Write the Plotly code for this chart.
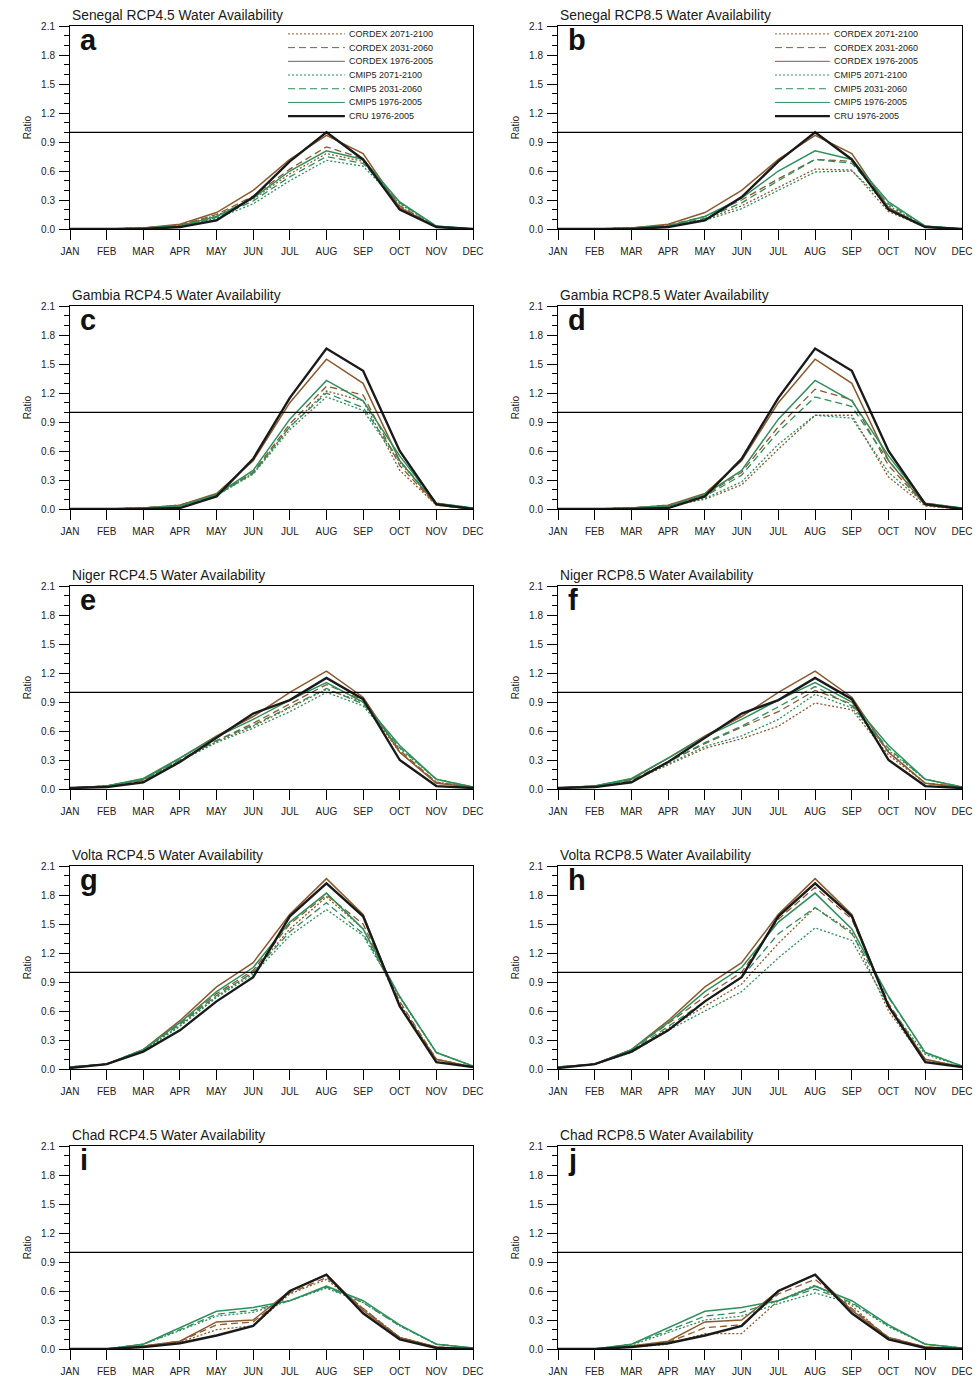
import plotly.graph_objects as go
from plotly.subplots import make_subplots

MONTHS = ["JAN", "FEB", "MAR", "APR", "MAY", "JUN", "JUL", "AUG", "SEP", "OCT", "NOV", "DEC"]
SERIES = ["CORDEX 2071-2100", "CORDEX 2031-2060", "CORDEX 1976-2005",
          "CMIP5 2071-2100", "CMIP5 2031-2060", "CMIP5 1976-2005", "CRU 1976-2005"]
REF_LINE = 1.0

# ---------------- Senegal ----------------
SEN_CRU        = [0, 0, 0.00, 0.02, 0.09, 0.33, 0.70, 1.00, 0.72, 0.20, 0.02, 0]
SEN_CORDEX_HIS = [0, 0, 0.01, 0.05, 0.17, 0.40, 0.72, 0.97, 0.78, 0.22, 0.02, 0]
SEN_CMIP_HIS   = [0, 0, 0.01, 0.03, 0.13, 0.32, 0.60, 0.81, 0.72, 0.28, 0.03, 0]
SEN45_CORDEX_MID = [0, 0, 0.01, 0.04, 0.15, 0.34, 0.62, 0.85, 0.73, 0.24, 0.02, 0]
SEN45_CORDEX_END = [0, 0, 0.01, 0.04, 0.14, 0.31, 0.57, 0.78, 0.70, 0.23, 0.02, 0]
SEN45_CMIP_MID   = [0, 0, 0.01, 0.03, 0.12, 0.29, 0.54, 0.75, 0.68, 0.27, 0.03, 0]
SEN45_CMIP_END   = [0, 0, 0.01, 0.03, 0.11, 0.26, 0.50, 0.71, 0.65, 0.26, 0.03, 0]
SEN85_CORDEX_MID = [0, 0, 0.01, 0.04, 0.13, 0.30, 0.52, 0.72, 0.70, 0.22, 0.02, 0]
SEN85_CORDEX_END = [0, 0, 0.01, 0.03, 0.10, 0.24, 0.43, 0.62, 0.61, 0.18, 0.02, 0]
SEN85_CMIP_MID   = [0, 0, 0.01, 0.03, 0.11, 0.27, 0.50, 0.72, 0.68, 0.26, 0.03, 0]
SEN85_CMIP_END   = [0, 0, 0.01, 0.03, 0.09, 0.21, 0.40, 0.59, 0.60, 0.24, 0.03, 0]

# ---------------- Gambia ----------------
GAM_CRU        = [0, 0, 0.00, 0.01, 0.13, 0.52, 1.15, 1.66, 1.43, 0.60, 0.05, 0]
GAM_CORDEX_HIS = [0, 0, 0.01, 0.04, 0.16, 0.50, 1.10, 1.55, 1.30, 0.50, 0.04, 0]
GAM_CMIP_HIS   = [0, 0, 0.01, 0.03, 0.15, 0.40, 0.93, 1.33, 1.12, 0.55, 0.06, 0.01]
GAM45_CORDEX_MID = [0, 0, 0.01, 0.04, 0.15, 0.38, 0.88, 1.27, 1.18, 0.45, 0.04, 0]
GAM45_CORDEX_END = [0, 0, 0.01, 0.04, 0.15, 0.37, 0.85, 1.22, 1.12, 0.40, 0.04, 0]
GAM45_CMIP_MID   = [0, 0, 0.01, 0.03, 0.14, 0.37, 0.85, 1.20, 1.05, 0.50, 0.06, 0.01]
GAM45_CMIP_END   = [0, 0, 0.01, 0.03, 0.14, 0.36, 0.82, 1.16, 1.02, 0.48, 0.06, 0.01]
GAM85_CORDEX_MID = [0, 0, 0.01, 0.04, 0.14, 0.38, 0.85, 1.24, 1.13, 0.45, 0.04, 0]
GAM85_CORDEX_END = [0, 0, 0.01, 0.03, 0.10, 0.25, 0.62, 0.97, 0.97, 0.33, 0.03, 0]
GAM85_CMIP_MID   = [0, 0, 0.01, 0.03, 0.13, 0.35, 0.80, 1.16, 1.06, 0.50, 0.06, 0.01]
GAM85_CMIP_END   = [0, 0, 0.01, 0.03, 0.11, 0.28, 0.67, 0.97, 0.94, 0.38, 0.05, 0.01]

# ---------------- Niger ----------------
NIG_CRU        = [0.01, 0.02, 0.07, 0.28, 0.53, 0.78, 0.92, 1.15, 0.93, 0.30, 0.03, 0.01]
NIG_CORDEX_HIS = [0.01, 0.03, 0.10, 0.32, 0.55, 0.75, 1.00, 1.22, 0.95, 0.38, 0.06, 0.02]
NIG_CMIP_HIS   = [0.01, 0.03, 0.11, 0.32, 0.54, 0.72, 0.92, 1.10, 0.90, 0.45, 0.10, 0.02]
NIG45_CORDEX_MID = [0.01, 0.03, 0.09, 0.30, 0.50, 0.68, 0.88, 1.08, 0.92, 0.40, 0.07, 0.02]
NIG45_CORDEX_END = [0.01, 0.03, 0.09, 0.29, 0.49, 0.65, 0.84, 1.03, 0.90, 0.38, 0.07, 0.02]
NIG45_CMIP_MID   = [0.01, 0.03, 0.10, 0.30, 0.50, 0.66, 0.85, 1.04, 0.88, 0.43, 0.10, 0.02]
NIG45_CMIP_END   = [0.01, 0.03, 0.10, 0.29, 0.48, 0.63, 0.80, 1.00, 0.86, 0.42, 0.10, 0.02]
NIG85_CORDEX_MID = [0.01, 0.03, 0.09, 0.28, 0.47, 0.64, 0.80, 1.02, 0.88, 0.38, 0.06, 0.02]
NIG85_CORDEX_END = [0.01, 0.02, 0.08, 0.25, 0.42, 0.52, 0.65, 0.89, 0.82, 0.35, 0.06, 0.02]
NIG85_CMIP_MID   = [0.01, 0.03, 0.09, 0.28, 0.48, 0.65, 0.85, 1.06, 0.86, 0.42, 0.10, 0.02]
NIG85_CMIP_END   = [0.01, 0.02, 0.08, 0.26, 0.44, 0.55, 0.72, 0.98, 0.84, 0.40, 0.10, 0.02]

# ---------------- Volta ----------------
VOL_CRU        = [0.01, 0.05, 0.18, 0.40, 0.70, 0.95, 1.58, 1.92, 1.58, 0.65, 0.07, 0.02]
VOL_CORDEX_HIS = [0.02, 0.05, 0.20, 0.50, 0.85, 1.10, 1.60, 1.97, 1.60, 0.65, 0.10, 0.02]
VOL_CMIP_HIS   = [0.02, 0.05, 0.20, 0.48, 0.80, 1.05, 1.52, 1.82, 1.45, 0.75, 0.17, 0.03]
VOL45_CORDEX_MID = [0.02, 0.05, 0.20, 0.47, 0.78, 1.02, 1.50, 1.80, 1.50, 0.70, 0.10, 0.02]
VOL45_CORDEX_END = [0.02, 0.05, 0.19, 0.45, 0.75, 1.00, 1.45, 1.78, 1.45, 0.68, 0.10, 0.02]
VOL45_CMIP_MID   = [0.02, 0.05, 0.20, 0.46, 0.76, 1.00, 1.42, 1.72, 1.40, 0.75, 0.17, 0.03]
VOL45_CMIP_END   = [0.02, 0.05, 0.19, 0.44, 0.74, 0.98, 1.38, 1.65, 1.38, 0.74, 0.17, 0.03]
VOL85_CORDEX_MID = [0.02, 0.05, 0.20, 0.47, 0.75, 1.00, 1.55, 1.88, 1.55, 0.68, 0.10, 0.02]
VOL85_CORDEX_END = [0.02, 0.05, 0.18, 0.42, 0.65, 0.88, 1.30, 1.67, 1.42, 0.60, 0.08, 0.02]
VOL85_CMIP_MID   = [0.02, 0.05, 0.19, 0.44, 0.70, 0.95, 1.40, 1.67, 1.40, 0.74, 0.17, 0.03]
VOL85_CMIP_END   = [0.02, 0.05, 0.17, 0.40, 0.60, 0.80, 1.15, 1.46, 1.33, 0.65, 0.15, 0.03]

# ---------------- Chad ----------------
CHA_CRU        = [0, 0, 0.02, 0.06, 0.14, 0.24, 0.60, 0.77, 0.37, 0.10, 0.01, 0]
CHA_CORDEX_HIS = [0, 0, 0.03, 0.08, 0.28, 0.30, 0.60, 0.77, 0.40, 0.12, 0.02, 0]
CHA_CMIP_HIS   = [0, 0, 0.05, 0.22, 0.39, 0.43, 0.50, 0.65, 0.50, 0.25, 0.05, 0.01]
CHA45_CORDEX_MID = [0, 0, 0.03, 0.08, 0.25, 0.28, 0.58, 0.74, 0.42, 0.12, 0.02, 0]
CHA45_CORDEX_END = [0, 0, 0.03, 0.07, 0.20, 0.24, 0.57, 0.72, 0.42, 0.12, 0.02, 0]
CHA45_CMIP_MID   = [0, 0, 0.05, 0.20, 0.36, 0.40, 0.50, 0.64, 0.48, 0.24, 0.05, 0.01]
CHA45_CMIP_END   = [0, 0, 0.05, 0.19, 0.34, 0.38, 0.50, 0.63, 0.48, 0.24, 0.05, 0.01]
CHA85_CORDEX_MID = [0, 0, 0.03, 0.07, 0.22, 0.25, 0.57, 0.72, 0.42, 0.12, 0.02, 0]
CHA85_CORDEX_END = [0, 0, 0.02, 0.05, 0.16, 0.16, 0.50, 0.66, 0.45, 0.10, 0.02, 0]
CHA85_CMIP_MID   = [0, 0, 0.05, 0.19, 0.34, 0.38, 0.50, 0.62, 0.48, 0.24, 0.05, 0.01]
CHA85_CMIP_END   = [0, 0, 0.04, 0.17, 0.30, 0.34, 0.47, 0.58, 0.47, 0.23, 0.05, 0.01]

PANEL_TITLES = [
    "Senegal RCP4.5 Water Availability", "Senegal RCP8.5 Water Availability",
    "Gambia RCP4.5 Water Availability", "Gambia RCP8.5 Water Availability",
    "Niger RCP4.5 Water Availability", "Niger RCP8.5 Water Availability",
    "Volta RCP4.5 Water Availability", "Volta RCP8.5 Water Availability",
    "Chad RCP4.5 Water Availability", "Chad RCP8.5 Water Availability",
]
PANEL_LETTERS = ["a", "b", "c", "d", "e", "f", "g", "h", "i", "j"]

PANEL_DATA = [
    [SEN45_CORDEX_END, SEN45_CORDEX_MID, SEN_CORDEX_HIS, SEN45_CMIP_END, SEN45_CMIP_MID, SEN_CMIP_HIS, SEN_CRU],
    [SEN85_CORDEX_END, SEN85_CORDEX_MID, SEN_CORDEX_HIS, SEN85_CMIP_END, SEN85_CMIP_MID, SEN_CMIP_HIS, SEN_CRU],
    [GAM45_CORDEX_END, GAM45_CORDEX_MID, GAM_CORDEX_HIS, GAM45_CMIP_END, GAM45_CMIP_MID, GAM_CMIP_HIS, GAM_CRU],
    [GAM85_CORDEX_END, GAM85_CORDEX_MID, GAM_CORDEX_HIS, GAM85_CMIP_END, GAM85_CMIP_MID, GAM_CMIP_HIS, GAM_CRU],
    [NIG45_CORDEX_END, NIG45_CORDEX_MID, NIG_CORDEX_HIS, NIG45_CMIP_END, NIG45_CMIP_MID, NIG_CMIP_HIS, NIG_CRU],
    [NIG85_CORDEX_END, NIG85_CORDEX_MID, NIG_CORDEX_HIS, NIG85_CMIP_END, NIG85_CMIP_MID, NIG_CMIP_HIS, NIG_CRU],
    [VOL45_CORDEX_END, VOL45_CORDEX_MID, VOL_CORDEX_HIS, VOL45_CMIP_END, VOL45_CMIP_MID, VOL_CMIP_HIS, VOL_CRU],
    [VOL85_CORDEX_END, VOL85_CORDEX_MID, VOL_CORDEX_HIS, VOL85_CMIP_END, VOL85_CMIP_MID, VOL_CMIP_HIS, VOL_CRU],
    [CHA45_CORDEX_END, CHA45_CORDEX_MID, CHA_CORDEX_HIS, CHA45_CMIP_END, CHA45_CMIP_MID, CHA_CMIP_HIS, CHA_CRU],
    [CHA85_CORDEX_END, CHA85_CORDEX_MID, CHA_CORDEX_HIS, CHA85_CMIP_END, CHA85_CMIP_MID, CHA_CMIP_HIS, CHA_CRU],
]

# ---------------- styles ----------------
BROWN = "#8c5a2e"
GREEN = "#2f8f5c"
DOT = "2px,2px"
DASH = "7px,4px"
STYLES = [
    dict(color=BROWN, dash=DOT, width=1.3),
    dict(color=BROWN, dash=DASH, width=1.3),
    dict(color=BROWN, dash="solid", width=1.5),
    dict(color=GREEN, dash=DOT, width=1.3),
    dict(color=GREEN, dash=DASH, width=1.3),
    dict(color=GREEN, dash="solid", width=1.5),
    dict(color="#1a1a1a", dash="solid", width=2.4),
]

FONT = "Liberation Sans, Arial, Helvetica, sans-serif"
W, H = 979, 1376
COL_X = [(70, 473), (558, 962)]
ROW_TOP, ROW_H, ROW_STEP = 26, 203, 280

fig = make_subplots(rows=5, cols=2)

for idx, data in enumerate(PANEL_DATA):
    r, c = idx // 2 + 1, idx % 2 + 1
    for name, ys, st in zip(SERIES, data, STYLES):
        fig.add_trace(go.Scatter(x=MONTHS, y=ys, mode="lines", name=name,
                                 line=st, showlegend=False, hoverinfo="skip"),
                      row=r, col=c)

shapes = []
annotations = []
for idx in range(10):
    r, c = idx // 2, idx % 2
    n = idx + 1
    sfx = "" if n == 1 else str(n)
    x0, x1 = COL_X[c]
    top = ROW_TOP + r * ROW_STEP
    bot = top + ROW_H
    xd = [x0 / W, x1 / W]
    yd = [1 - bot / H, 1 - top / H]
    fig.layout["xaxis" + sfx].update(
        domain=xd, range=[0, 11], showline=True, linecolor="black", linewidth=1,
        mirror=True, ticks="outside", ticklen=10, tickcolor="black", tickwidth=1,
        ticklabelstandoff=3,
        tickfont=dict(size=10, color="#222", family=FONT), showgrid=False, zeroline=False,
        automargin=False, fixedrange=True)
    fig.layout["yaxis" + sfx].update(
        domain=yd, range=[0, 2.1005], tickmode="linear", tick0=0, dtick=0.3,
        tickformat=".1f", showline=True, linecolor="black", linewidth=1, mirror=True,
        ticks="outside", ticklen=10, tickcolor="black", tickwidth=1, ticklabelstandoff=2,
        tickfont=dict(size=10, color="#222", family=FONT), showgrid=False, zeroline=False,
        minor=dict(dtick=0.1, tick0=0, ticks="outside", ticklen=5, tickcolor="black", showgrid=False),
        title=dict(text="Ratio", font=dict(size=10, color="#222", family=FONT), standoff=7),
        automargin=False, fixedrange=True)
    xr = "x" + sfx
    yr = "y" + sfx
    shapes.append(dict(type="line", xref=xr + " domain", yref=yr, x0=0, x1=1,
                       y0=REF_LINE, y1=REF_LINE, line=dict(color="black", width=1.3)))
    annotations.append(dict(text=PANEL_TITLES[idx], xref=xr + " domain", yref=yr + " domain",
                            x=0, y=1, xanchor="left", yanchor="bottom", yshift=1,
                            showarrow=False, font=dict(size=13.8, color="#1a1a1a", family=FONT)))
    annotations.append(dict(text="<b>" + PANEL_LETTERS[idx] + "</b>", xref=xr + " domain",
                            yref=yr + " domain", x=0.02, y=1.02, xanchor="left", yanchor="top",
                            showarrow=False, font=dict(size=29, color="#111", family=FONT)))

    # compact legend drawn in the top two panels
    if r == 0:
        lx0, lx1, tx = (0.541, 0.682, 0.687) if c == 0 else (0.537, 0.673, 0.678)
        for k, (name, st) in enumerate(zip(SERIES, STYLES)):
            yy = 0.961 - k * 0.0675
            shapes.append(dict(type="line", xref=xr + " domain", yref=yr + " domain",
                               x0=lx0, x1=lx1, y0=yy, y1=yy,
                               line=dict(color=st["color"], dash=st["dash"],
                                         width=2.2 if k == 6 else 1.0)))
            annotations.append(dict(text=name, xref=xr + " domain", yref=yr + " domain",
                                    x=tx, y=yy, xanchor="left", yanchor="middle",
                                    showarrow=False,
                                    font=dict(size=9, color="#222", family=FONT)))

fig.update_layout(
    width=W, height=H, margin=dict(l=0, r=0, t=0, b=0),
    paper_bgcolor="white", plot_bgcolor="white",
    shapes=shapes, annotations=annotations, showlegend=False,
    font=dict(family=FONT),
)

fig.write_html("out.html", config={"displayModeBar": False, "staticPlot": True},
               post_script="document.body.style.margin='0';document.body.style.overflow='hidden';")
